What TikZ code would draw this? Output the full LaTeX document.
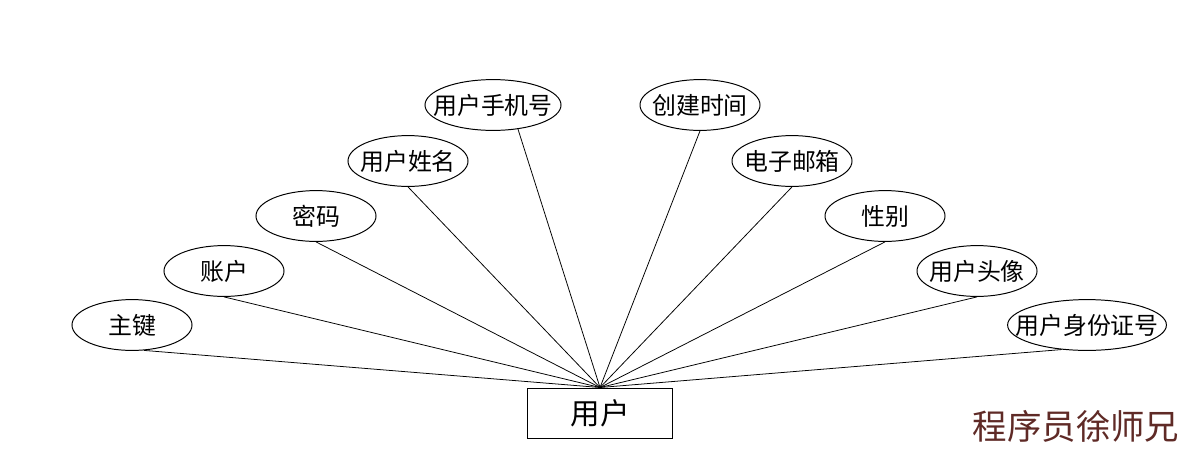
\documentclass[tikz,border=0pt]{standalone}
\usepackage{fontspec}
\setmainfont{Noto Sans CJK SC}
\newfontfamily\wmfont{Noto Sans CJK SC}
\usetikzlibrary{shapes.geometric}
\definecolor{wmcolor}{RGB}{95,42,38}
\tikzset{
  attr/.style={draw=black, line width=0.7pt, ellipse, inner sep=0pt,
    minimum width=3cm, minimum height=1.27cm, font=\fontsize{17}{17}\selectfont},
  ent/.style={draw=black, line width=0.7pt, rectangle, inner sep=0pt,
    minimum width=3.6cm, minimum height=1.25cm, font=\fontsize{21}{21}\selectfont},
  link/.style={draw=black, line width=0.55pt}
}
\newcommand{\zw}[1]{\makebox[0pt]{#1}}
\begin{document}
\begin{tikzpicture}[x=0.025cm, y=-0.025cm]
\useasboundingbox[fill=white] (0,0) rectangle (1200,468);
\node[ent] (u) at (600,413) {用户};
\node[attr] (a1) at (132,325) {\zw{主键}};
\node[attr] (a2) at (224,271) {\zw{账户}};
\node[attr] (a3) at (316,216) {\zw{密码}};
\node[attr] (a4) at (408,161) {\zw{用户姓名}};
\node[attr, minimum width=3.4cm] (a5) at (493,105) {\zw{用户手机号}};
\node[attr] (a6) at (700,105) {\zw{创建时间}};
\node[attr] (a7) at (792,161) {\zw{电子邮箱}};
\node[attr] (a8) at (885,216) {\zw{性别}};
\node[attr] (a9) at (977,271) {\zw{用户头像}};
\node[attr, minimum width=3.97cm] (a10) at (1087,325) {\zw{用户身份证号}};
\draw[link] (a1.-65) -- (u.north);
\draw[link] (a2.south) -- (u.north);
\draw[link] (a3.south) -- (u.north);
\draw[link] (a4.south) -- (u.north);
\draw[link] (a5.-44) -- (u.north);
\draw[link] (a6.south) -- (u.north);
\draw[link] (a7.south) -- (u.north);
\draw[link] (a8.south) -- (u.north);
\draw[link] (a9.south) -- (u.north);
\draw[link] (a10.-136) -- (u.north);
\node[font=\wmfont\fontsize{24.5}{24.5}\selectfont, text=wmcolor, inner sep=0pt] (wm) at (1076,426) {程序员徐师兄};
\end{tikzpicture}
\end{document}
